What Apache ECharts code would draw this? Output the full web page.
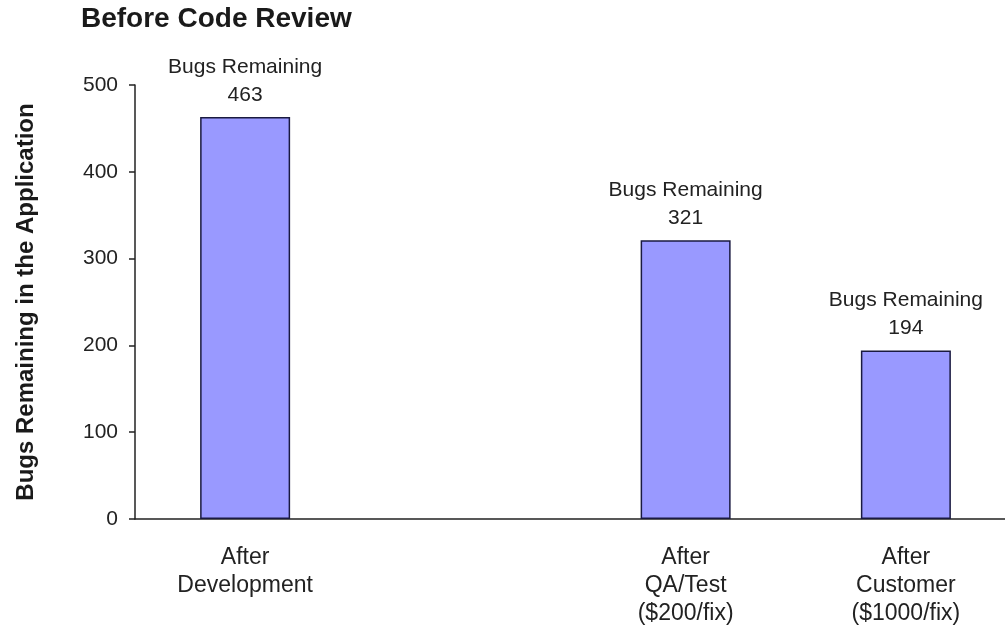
<!DOCTYPE html>
<html>
<head>
<meta charset="utf-8">
<script src="https://cdn.jsdelivr.net/npm/echarts@6/dist/echarts.min.js"></script>
<style>
html,body{margin:0;padding:0;background:#fff;}
#chart{width:1005px;height:632px;}
</style>
</head>
<body>
<div id="chart"></div>
<script>
var categories = ['After\nDevelopment', '', 'After\nQA/Test\n($200/fix)', 'After\nCustomer\n($1000/fix)'];
var bugsRemaining = [463, null, 321, 194];
var yTicks = { min: 0, max: 500, interval: 100 };
var titleText = 'Before Code Review';
var yAxisName = 'Bugs Remaining in the Application';
var labelPrefix = 'Bugs Remaining';

var FONT = '"Liberation Sans", Arial, sans-serif';
var chart = echarts.init(document.getElementById('chart'), null, { renderer: 'canvas' });
chart.setOption({
  animation: false,
  backgroundColor: '#ffffff',
  title: {
    text: titleText,
    left: 81,
    top: 5,
    padding: 0,
    textStyle: { fontFamily: FONT, fontSize: 28, fontWeight: 'bold', color: '#1a1a1a' }
  },
  grid: { left: 135, right: -11, top: 85, bottom: 113, containLabel: false, outerBoundsMode: 'none' },
  xAxis: {
    type: 'category',
    data: categories,
    axisLine: { show: true, lineStyle: { color: '#222', width: 1.5 } },
    axisTick: { show: false },
    axisLabel: {
      interval: 0,
      margin: 25,
      fontFamily: FONT,
      fontSize: 23,
      lineHeight: 28,
      color: '#222'
    },
    splitLine: { show: false }
  },
  yAxis: {
    type: 'value',
    min: yTicks.min,
    max: yTicks.max,
    interval: yTicks.interval,
    name: yAxisName,
    nameLocation: 'middle',
    nameGap: 97,
    nameRotate: 90,
    nameTextStyle: { fontFamily: FONT, fontSize: 24, fontWeight: 'bold', color: '#1a1a1a' },
    axisLine: { show: true, lineStyle: { color: '#222', width: 1.5 } },
    axisTick: { show: true, length: 6, inside: false, lineStyle: { color: '#222', width: 1.5 } },
    axisLabel: { margin: 17, fontFamily: FONT, fontSize: 21, color: '#222' },
    splitLine: { show: false }
  },
  series: [{
    type: 'bar',
    data: bugsRemaining,
    barWidth: 90,
    itemStyle: { color: '#9999ff', borderColor: '#1a1a40', borderWidth: 1.5 },
    label: {
      show: true,
      position: 'top',
      distance: 8,
      formatter: function (p) { return labelPrefix + '\n' + p.value; },
      fontFamily: FONT,
      fontSize: 21,
      lineHeight: 28,
      color: '#222',
      align: 'center'
    }
  }]
});
</script>
</body>
</html>
